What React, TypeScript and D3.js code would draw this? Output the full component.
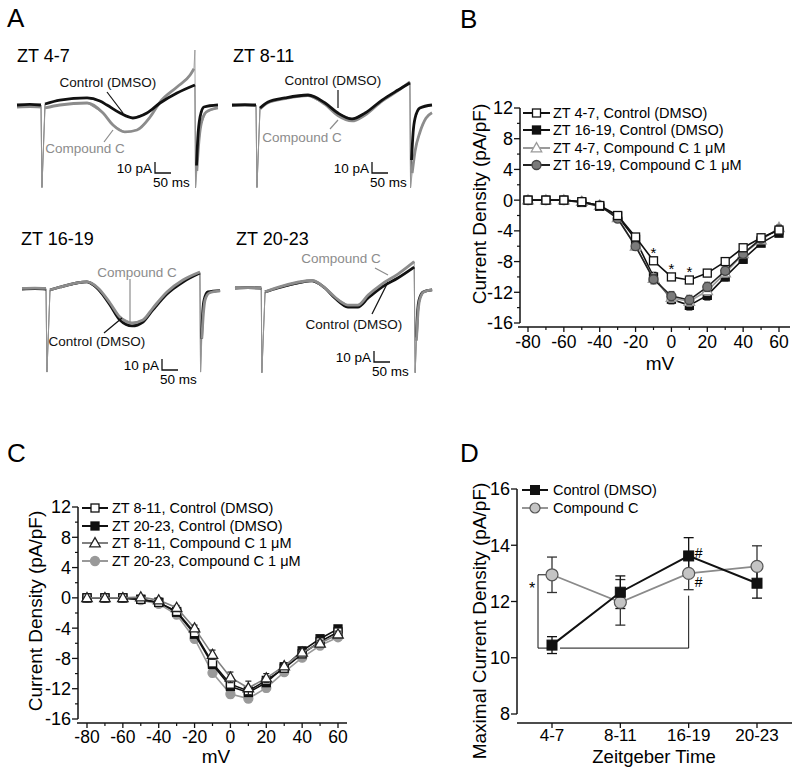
import React from 'react';
import * as d3 from 'd3';

const FONT = "'Liberation Sans', Arial, Helvetica, sans-serif";
const BLACK = '#111';
const GRAY = '#8c8c8c';

// ---------------- Panel A: example traces [time ms, current pA, transient flag]
const zt47Control = [[0,0],[40,0.5],[75,0],[78,-75,1],[87.5,0.9],[134,4.5],[219,6.4],[259,3.6],[281,0],[322,-7.3],[362,-11.8],[406,-7.3],[447,1.8],[500,10.9],[556,18.2],[558,-75,1],[561,-55],[565,-30],[572,-11],[584,-1.8],[628,0]];
const zt47Compound = [[0,-1.8],[40,-1.5],[75,-1.8],[78,-75,1],[87.5,-2.7],[134,0],[219,1.8],[269,-7.3],[300,-18.2],[337,-24.5],[375,-22.7],[416,-10.9],[447,2.7],[500,16.4],[541,27.3],[553,33],[556,50,1],[558,-75,1],[562,-60],[567,-38],[575,-18],[591,-6.4],[628,-2.7]];
const zt811Control = [[0,0],[40,0.3],[75,0],[78,-75,1],[87.5,-2.7],[112.5,2.7],[166,6.4],[237.5,9.1],[291,1.8],[331,-7.3],[375,-12.7],[416,-7.3],[469,4.5],[519,13.6],[556,20],[558,-75,1],[561,-50],[566,-25],[572,-12],[587,-2.7],[625,0]];
const zt811Compound = [[0,-0.5],[40,-0.3],[75,-0.5],[78,-75,1],[87.5,-3.5],[112.5,2],[166,5.8],[237.5,8.6],[291,0.5],[331,-9.5],[375,-14.5],[416,-9.1],[469,3.6],[519,13],[556,21],[558,-75,1],[563,-62],[572,-42],[587,-25],[606,-12],[625,-7]];
const zt1619Control = [[0,0],[40,0.3],[75,0],[78,-75.5,1],[87.5,-0.9],[119,1.8],[203,6.4],[237.5,0],[275,-14.5],[306,-28.2],[344,-33.6],[378,-30],[409,-19],[453,-4.5],[503,6.4],[556,14.5],[558,-75.5,1],[561,-45],[565,-20],[569,-10],[581,-2.7],[619,-1.5]];
const zt1619Compound = [[0,0.5],[40,0.8],[75,0.5],[78,-75.5,1],[87.5,-0.9],[119,1.8],[203,6.4],[237.5,0.9],[275,-12.7],[306,-25.5],[344,-30.9],[378,-28.2],[409,-17.3],[453,-2.7],[503,8.2],[556,15.5],[558,-75.5,1],[562,-45],[567,-22],[572,-10],[585,-3.6],[619,-1.8]];
const zt2023Control = [[0,0],[40,0.3],[82,0],[84,-77,1],[94,-3.6],[134,0],[241,6.4],[281,0],[312,-9.1],[353,-17.3],[384,-17.3],[416,-9.1],[459,0.9],[509,9.1],[560,19],[563,-77,1],[567,-45],[571,-20],[575,-11],[588,-3.6],[616,-1.8]];
const zt2023Compound = [[0,0],[40,0.3],[82,0],[84,-77,1],[94,-3.6],[134,0.5],[241,6.8],[281,0],[312,-8.2],[353,-15.5],[384,-15.5],[416,-6.4],[459,3.6],[509,12.7],[560,24],[563,-77,1],[567,-48],[572,-22],[577,-11],[590,-3.6],[616,-1.8]];

const traceTitles = ['ZT 4-7', 'ZT 8-11', 'ZT 16-19', 'ZT 20-23'];

// ---------------- Panels B & C: I-V curves
const mV = [-80, -70, -60, -50, -40, -30, -20, -10, 0, 10, 20, 30, 40, 50, 60];
const bZt47Control = [0, 0, 0, -0.2, -0.7, -2.0, -4.8, -7.9, -10.0, -10.4, -9.5, -8.0, -6.2, -4.9, -3.9];
const bZt1619Control = [0, 0, 0, -0.3, -0.8, -2.1, -5.1, -10.0, -12.9, -13.7, -12.4, -10.0, -7.7, -5.6, -4.3];
const bZt47Compound = [0, 0, 0, -0.2, -0.7, -2.3, -6.0, -10.2, -12.7, -13.2, -11.8, -9.5, -7.0, -5.2, -3.6];
const bZt1619Compound = [0, 0, 0, -0.2, -0.7, -2.4, -6.0, -10.3, -12.5, -13.0, -11.3, -9.2, -7.0, -5.0, -3.8];
const bErrSmall = [0.1, 0.1, 0.1, 0.2, 0.2, 0.3, 0.4, 0.4, 0.4, 0.4, 0.4, 0.3, 0.3, 0.3, 0.3];
const bErrLarge = [0.1, 0.1, 0.1, 0.2, 0.3, 0.4, 0.5, 0.6, 0.6, 0.6, 0.6, 0.5, 0.5, 0.4, 0.4];

const cZt811Control = [0, 0, 0, -0.2, -0.6, -1.8, -4.6, -8.6, -11.4, -12.3, -10.9, -9.3, -7.4, -5.8, -4.5];
const cZt2023Control = [0, 0, 0, -0.2, -0.6, -1.9, -4.8, -8.8, -11.7, -12.5, -11.2, -9.1, -7.0, -5.4, -4.1];
const cZt811Compound = [0, 0, 0, 0.1, -0.3, -1.3, -4.0, -7.5, -10.5, -11.9, -10.6, -9.0, -7.2, -6.0, -4.8];
const cZt2023Compound = [0, 0, 0, -0.3, -0.8, -2.2, -5.4, -9.9, -12.7, -13.3, -11.9, -9.8, -7.9, -6.3, -5.2];
const cErr = [0.1, 0.1, 0.1, 0.2, 0.3, 0.3, 0.4, 0.5, 0.5, 0.5, 0.5, 0.4, 0.4, 0.4, 0.4];
const cErrTri = [0.1, 0.1, 0.1, 0.2, 0.3, 0.3, 0.4, 0.6, 0.7, 0.9, 0.6, 0.4, 0.4, 0.4, 0.4];

const ivYTicks = [-16, -12, -8, -4, 0, 4, 8, 12];
const ivYMinor = [-14, -10, -6, -2, 2, 6, 10];
const ivXTicks = [-80, -60, -40, -20, 0, 20, 40, 60];
const ivXMinor = [-70, -50, -30, -10, 10, 30, 50];
const bStarAt = [-10, 0, 10];

// ---------------- Panel D
const zeitgeber = ['4-7', '8-11', '16-19', '20-23'];
const dControl = [10.45, 12.33, 13.62, 12.65];
const dControlErr = [0.3, 0.58, 0.65, 0.53];
const dCompound = [12.95, 11.97, 13.0, 13.25];
const dCompoundErr = [0.63, 0.81, 0.58, 0.73];
const dYTicks = [8, 10, 12, 14, 16];

function marker(shape: string, cx: number, cy: number, s: number, fill: string, stroke: string, sw: number, key?: any) {
  if (shape === 'square') return <rect key={key} x={cx - s / 2} y={cy - s / 2} width={s} height={s} fill={fill} stroke={stroke} strokeWidth={sw} />;
  if (shape === 'circle') return <circle key={key} cx={cx} cy={cy} r={s / 2} fill={fill} stroke={stroke} strokeWidth={sw} />;
  return <path key={key} d={`M${cx},${cy - s * 0.6}L${cx + s * 0.58},${cy + s * 0.42}L${cx - s * 0.58},${cy + s * 0.42}Z`} fill={fill} stroke={stroke} strokeWidth={sw} />;
}

function TracePanel({ cfg }: any) {
  const xs = d3.scaleLinear().domain([0, 50]).range([cfg.x0, cfg.x0 + 16]);
  const ys = d3.scaleLinear().domain([0, 10]).range([cfg.yb, cfg.yb - 11]);
  const thin = d3.line<any>().x(d => xs(d[0])).y(d => ys(d[1]));
  const thick = d3.line<any>().defined(d => !d[2]).x(d => xs(d[0])).y(d => ys(d[1])).curve(d3.curveMonotoneX);
  const thinTr = (data: any, color: string, k: string) => (
    <path key={k} d={thin(data) || ''} fill="none" stroke={color} strokeWidth={0.9} />
  );
  const thickTr = (data: any, color: string, k: string) => (
    <path key={k} d={thick(data) || ''} fill="none" stroke={color} strokeWidth={2.8} strokeLinejoin="round" />
  );
  const order = cfg.controlOnTop
    ? [thickTr(cfg.compound, GRAY, 'g'), thickTr(cfg.control, BLACK, 'k')]
    : [thickTr(cfg.control, BLACK, 'k'), thickTr(cfg.compound, GRAY, 'g')];
  const [bx, by] = cfg.bar;
  const bw = xs(50) - xs(0);
  const bh = ys(0) - ys(10);
  return (
    <g>
      <text x={cfg.title[0]} y={cfg.title[1]} fontSize={18}>{cfg.name}</text>
      {thinTr(cfg.control, '#555', 'tk')}
      {thinTr(cfg.compound, '#999', 'tg')}
      {order}
      <path d={`M${bx},${by - bh}V${by}H${bx + bw}`} fill="none" stroke={BLACK} strokeWidth={1.3} />
      <text x={bx - 3} y={by} fontSize={13.5} textAnchor="end">10 pA</text>
      <text x={bx - 2} y={by + 14} fontSize={13.5}>50 ms</text>
      <text x={cfg.ctrlLabel[0]} y={cfg.ctrlLabel[1]} fontSize={13.5} textAnchor="middle" fill={BLACK}>Control (DMSO)</text>
      <line x1={cfg.ctrlPtr[0]} y1={cfg.ctrlPtr[1]} x2={cfg.ctrlPtr[2]} y2={cfg.ctrlPtr[3]} stroke={BLACK} strokeWidth={1.2} />
      <text x={cfg.ccLabel[0]} y={cfg.ccLabel[1]} fontSize={13.5} textAnchor="middle" fill={GRAY}>Compound C</text>
      <line x1={cfg.ccPtr[0]} y1={cfg.ccPtr[1]} x2={cfg.ccPtr[2]} y2={cfg.ccPtr[3]} stroke={GRAY} strokeWidth={1.2} />
    </g>
  );
}

function IVPanel({ cfg }: any) {
  const xs = d3.scaleLinear().domain([-80, 60]).range(cfg.xRange);
  const ys = d3.scaleLinear().domain([-16, 12]).range(cfg.yRange);
  const line = d3.line<number>().x((_, i) => xs(mV[i])).y(d => ys(d));
  return (
    <g>
      <line x1={cfg.axisX} x2={cfg.axisX} y1={ys(12)} y2={ys(-16)} stroke={BLACK} strokeWidth={1.5} />
      <line x1={cfg.xAxis[0]} x2={cfg.xAxis[1]} y1={cfg.axisY} y2={cfg.axisY} stroke={BLACK} strokeWidth={1.5} />
      {ivYTicks.map(t => (
        <g key={'yt' + t}>
          <line x1={cfg.axisX - 6} x2={cfg.axisX} y1={ys(t)} y2={ys(t)} stroke={BLACK} strokeWidth={1.3} />
          <text x={cfg.axisX - 7} y={ys(t)} dy="0.36em" fontSize={18} textAnchor="end">{t}</text>
        </g>
      ))}
      {ivYMinor.map(t => <line key={'ym' + t} x1={cfg.axisX - 3} x2={cfg.axisX} y1={ys(t)} y2={ys(t)} stroke={BLACK} strokeWidth={1.2} />)}
      {ivXTicks.map(t => (
        <g key={'xt' + t}>
          <line x1={xs(t)} x2={xs(t)} y1={cfg.axisY} y2={cfg.axisY + 5} stroke={BLACK} strokeWidth={1.3} />
          <text x={xs(t)} y={cfg.tickLabelY} fontSize={17.5} textAnchor="middle">{t}</text>
        </g>
      ))}
      {ivXMinor.map(t => <line key={'xm' + t} x1={xs(t)} x2={xs(t)} y1={cfg.axisY} y2={cfg.axisY + 3} stroke={BLACK} strokeWidth={1.2} />)}
      <text x={cfg.xLabel[0]} y={cfg.xLabel[1]} fontSize={19} textAnchor="middle">mV</text>
      <text transform={`translate(${cfg.yLabel[0]},${cfg.yLabel[1]}) rotate(-90)`} fontSize={19} textAnchor="middle">Current Density (pA/pF)</text>
      {cfg.series.map((s: any, si: number) => (
        <g key={'s' + si}>
          <path d={line(s.values) || ''} fill="none" stroke={s.line} strokeWidth={1.6} />
          {s.values.map((v: number, i: number) => (
            <g key={i}>
              <line x1={xs(mV[i])} x2={xs(mV[i])} y1={ys(v - s.err[i])} y2={ys(v + s.err[i])} stroke={s.stroke} strokeWidth={1.2} />
              <line x1={xs(mV[i]) - 3} x2={xs(mV[i]) + 3} y1={ys(v - s.err[i])} y2={ys(v - s.err[i])} stroke={s.stroke} strokeWidth={1.2} />
              <line x1={xs(mV[i]) - 3} x2={xs(mV[i]) + 3} y1={ys(v + s.err[i])} y2={ys(v + s.err[i])} stroke={s.stroke} strokeWidth={1.2} />
              {marker(s.shape, xs(mV[i]), ys(v), s.size, s.fill, s.stroke, 1.3)}
            </g>
          ))}
        </g>
      ))}
      {cfg.legendOrder.map((si: number, r: number) => {
        const s = cfg.series[si];
        const y = cfg.legend.rows[r];
        return (
          <g key={'lg' + r}>
            <line x1={cfg.legend.x1} x2={cfg.legend.x2} y1={y} y2={y} stroke={s.line} strokeWidth={2} />
            {marker(s.shape, (cfg.legend.x1 + cfg.legend.x2) / 2, y, s.size, s.fill, s.stroke, 1.3)}
            <text x={cfg.legend.tx} y={y} dy="0.36em" fontSize={14.5}>{s.label}</text>
          </g>
        );
      })}
      {cfg.stars && cfg.stars.map((m: number) => {
        const i = mV.indexOf(m);
        return <text key={'st' + m} x={xs(m)} y={ys(cfg.starSeries[i]) - 3} fontSize={15} textAnchor="middle">*</text>;
      })}
    </g>
  );
}

function DPanel() {
  const xs = d3.scalePoint<string>().domain(zeitgeber).range([552, 757]);
  const ys = d3.scaleLinear().domain([8, 16]).range([714, 489]);
  const line = d3.line<number>().x((_, i) => xs(zeitgeber[i]) as number).y(d => ys(d));
  const eb = (vals: number[], errs: number[], color: string, k: string) => vals.map((v, i) => {
    const x = xs(zeitgeber[i]) as number;
    return (
      <g key={k + i}>
        <line x1={x} x2={x} y1={ys(v - errs[i])} y2={ys(v + errs[i])} stroke={color} strokeWidth={1.3} />
        <line x1={x - 5} x2={x + 5} y1={ys(v - errs[i])} y2={ys(v - errs[i])} stroke={color} strokeWidth={1.3} />
        <line x1={x - 5} x2={x + 5} y1={ys(v + errs[i])} y2={ys(v + errs[i])} stroke={color} strokeWidth={1.3} />
      </g>
    );
  });
  const x0 = xs(zeitgeber[0]) as number;
  const x2 = xs(zeitgeber[2]) as number;
  return (
    <g>
      <line x1={517} x2={517} y1={ys(16)} y2={ys(8)} stroke={BLACK} strokeWidth={1.5} />
      <line x1={517} x2={792} y1={723} y2={723} stroke={BLACK} strokeWidth={1.5} />
      {dYTicks.map(t => (
        <g key={'dy' + t}>
          <line x1={511} x2={517} y1={ys(t)} y2={ys(t)} stroke={BLACK} strokeWidth={1.3} />
          <text x={510} y={ys(t)} dy="0.36em" fontSize={18} textAnchor="end">{t}</text>
        </g>
      ))}
      {zeitgeber.map(z => (
        <g key={'dx' + z}>
          <line x1={xs(z)} x2={xs(z)} y1={723} y2={728} stroke={BLACK} strokeWidth={1.3} />
          <text x={xs(z)} y={741} fontSize={17} textAnchor="middle">{z}</text>
        </g>
      ))}
      <text x={654} y={763} fontSize={18.5} textAnchor="middle">Zeitgeber Time</text>
      <text transform="translate(486,621) rotate(-90)" fontSize={19} textAnchor="middle">Maximal Current Density (pA/pF)</text>
      <path d={`M${x0 - 5},${ys(dCompound[0])}H${x0 - 14}V${ys(dControl[0]) + 3}H${x0 - 5}`} fill="none" stroke={BLACK} strokeWidth={1} />
      <text x={x0 - 20} y={594} fontSize={16} textAnchor="middle">*</text>
      <path d={`M${x0 + 8},${ys(dControl[0]) + 3}H${x2}V${ys(dCompound[2] - dCompoundErr[2]) + 6}`} fill="none" stroke={BLACK} strokeWidth={1} />
      <path d={line(dCompound) || ''} fill="none" stroke="#8a8a8a" strokeWidth={1.8} />
      <path d={line(dControl) || ''} fill="none" stroke={BLACK} strokeWidth={2} />
      {eb(dCompound, dCompoundErr, '#333', 'ce')}
      {eb(dControl, dControlErr, BLACK, 'ke')}
      {dCompound.map((v, i) => marker('circle', xs(zeitgeber[i]) as number, ys(v), 12, '#c4c4c4', '#555', 1.2, 'cc' + i))}
      {dControl.map((v, i) => marker('square', xs(zeitgeber[i]) as number, ys(v), 10, BLACK, BLACK, 1, 'kc' + i))}
      <text x={x2 + 6} y={ys(dControl[2]) + 2} fontSize={14}>#</text>
      <text x={x2 + 6} y={ys(dCompound[2]) + 14} fontSize={14}>#</text>
      <line x1={522} x2={548} y1={490} y2={490} stroke={BLACK} strokeWidth={2} />
      {marker('square', 535, 490, 9, BLACK, BLACK, 1)}
      <text x={553} y={490} dy="0.36em" fontSize={14.5}>Control (DMSO)</text>
      <line x1={522} x2={548} y1={508} y2={508} stroke="#8a8a8a" strokeWidth={1.8} />
      {marker('circle', 535, 508, 10, '#c4c4c4', '#555', 1.2)}
      <text x={553} y={508} dy="0.36em" fontSize={14.5}>Compound C</text>
    </g>
  );
}

export default function App() {
  const traces = [
    { name: traceTitles[0], title: [17, 62], x0: 17, yb: 105, control: zt47Control, compound: zt47Compound, controlOnTop: true, bar: [155, 173],
      ctrlLabel: [108, 87], ctrlPtr: [107, 92, 123, 113], ccLabel: [85, 153], ccPtr: [104, 142, 113, 130] },
    { name: traceTitles[1], title: [233, 62], x0: 232, yb: 105, control: zt811Control, compound: zt811Compound, controlOnTop: true, bar: [372, 173],
      ctrlLabel: [333, 85], ctrlPtr: [338, 90, 338, 108], ccLabel: [302, 142], ccPtr: [330, 129, 338, 120] },
    { name: traceTitles[2], title: [21, 245], x0: 22, yb: 289, control: zt1619Control, compound: zt1619Compound, controlOnTop: false, bar: [162, 370],
      ctrlLabel: [97, 346], ctrlPtr: [104, 333, 122, 318], ccLabel: [137, 277], ccPtr: [130, 279, 130, 322] },
    { name: traceTitles[3], title: [236, 245], x0: 235, yb: 288, control: zt2023Control, compound: zt2023Compound, controlOnTop: false, bar: [374, 362],
      ctrlLabel: [354, 329], ctrlPtr: [372, 314, 388, 282], ccLabel: [341, 263], ccPtr: [375, 268, 388, 275] },
  ];

  const bCfg = {
    xRange: [528, 779], yRange: [323, 108], axisX: 520, axisY: 327, xAxis: [518, 790], tickLabelY: 348,
    xLabel: [660, 370], yLabel: [486, 204],
    legend: { x1: 523, x2: 550, tx: 553, rows: [113, 130, 148, 165] },
    legendOrder: [3, 0, 1, 2],
    series: [
      { values: bZt1619Control, err: bErrLarge, shape: 'square', size: 8, fill: BLACK, stroke: BLACK, line: BLACK, label: 'ZT 16-19, Control (DMSO)' },
      { values: bZt47Compound, err: bErrLarge, shape: 'triangle', size: 9, fill: '#fff', stroke: '#9a9a9a', line: '#9a9a9a', label: 'ZT 4-7, Compound C 1 μM' },
      { values: bZt1619Compound, err: bErrLarge, shape: 'circle', size: 9, fill: '#7a7a7a', stroke: '#444', line: '#222', label: 'ZT 16-19, Compound C 1 μM' },
      { values: bZt47Control, err: bErrSmall, shape: 'square', size: 8, fill: '#fff', stroke: BLACK, line: BLACK, label: 'ZT 4-7, Control (DMSO)' },
    ],
    stars: bStarAt, starSeries: bZt47Control,
  };

  const cCfg = {
    xRange: [87, 338], yRange: [719, 507], axisX: 78, axisY: 723, xAxis: [77, 347], tickLabelY: 743,
    xLabel: [216, 763], yLabel: [42, 611],
    legend: { x1: 82, x2: 108, tx: 112, rows: [508, 526, 543, 561] },
    legendOrder: [2, 1, 3, 0],
    series: [
      { values: cZt2023Compound, err: cErr, shape: 'circle', size: 9, fill: '#999', stroke: '#999', line: '#999', label: 'ZT 20-23, Compound C 1 μM' },
      { values: cZt2023Control, err: cErr, shape: 'square', size: 8, fill: BLACK, stroke: BLACK, line: BLACK, label: 'ZT 20-23, Control (DMSO)' },
      { values: cZt811Control, err: cErr, shape: 'square', size: 8, fill: '#fff', stroke: BLACK, line: BLACK, label: 'ZT 8-11, Control (DMSO)' },
      { values: cZt811Compound, err: cErrTri, shape: 'triangle', size: 9, fill: '#fff', stroke: '#222', line: '#808080', label: 'ZT 8-11, Compound C 1 μM' },
    ],
  };

  return (
    <svg width={800} height={772} style={{ position: 'absolute', left: 0, top: 0, background: '#fff' }} fontFamily={FONT}>
      <rect width={800} height={772} fill="#fff" />
      <text x={7} y={27} fontSize={26}>A</text>
      <text x={460} y={28} fontSize={26}>B</text>
      <text x={7} y={462} fontSize={26}>C</text>
      <text x={460} y={462} fontSize={26}>D</text>
      {traces.map((t, i) => <TracePanel key={i} cfg={t} />)}
      <IVPanel cfg={bCfg} />
      <IVPanel cfg={cCfg} />
      <DPanel />
    </svg>
  );
}
